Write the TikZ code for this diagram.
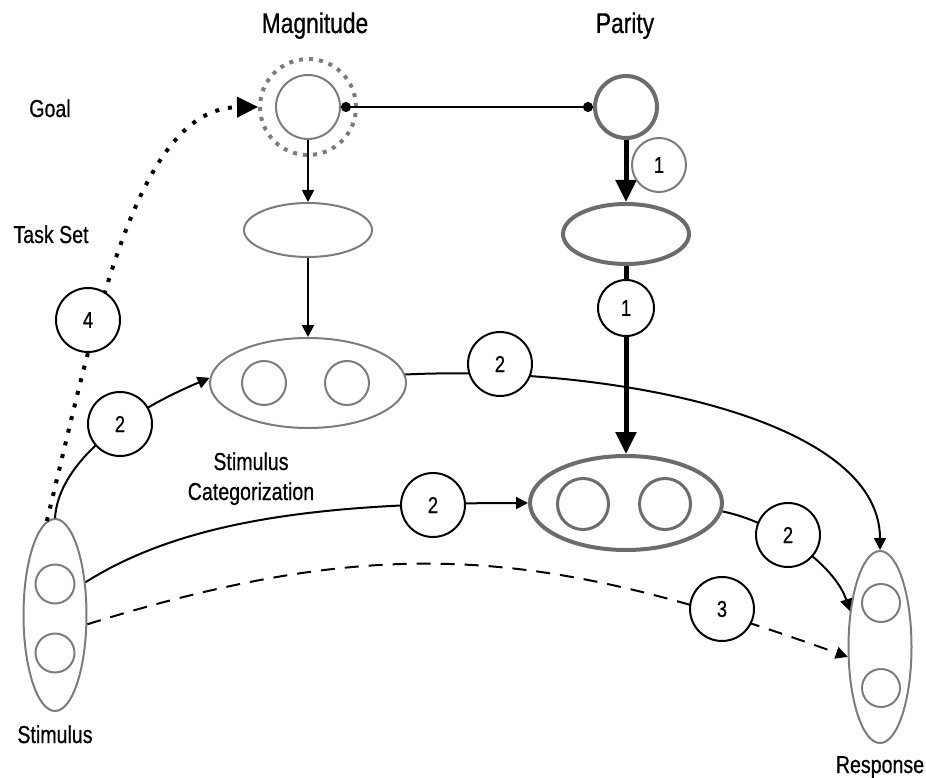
\documentclass[tikz,border=0pt]{standalone}
\usepackage{fontspec}
\setmainfont{Liberation Sans}[FakeStretch=0.8, FakeBold=0.6]
\usetikzlibrary{arrows.meta, shapes.geometric}

\definecolor{shapegray}{HTML}{7C7C7C}
\definecolor{boldgray}{HTML}{6C6C6C}

\begin{document}
\begin{tikzpicture}[x=1pt, y=-1pt,
		every node/.style={font=\fontsize{24.5}{30}\selectfont},
		grayshape/.style={draw=shapegray, line width=2pt, inner sep=0pt},
		boldshape/.style={draw=boldgray, line width=4pt, inner sep=0pt},
		oval/.style 2 args={ellipse, minimum width=#1, minimum height=#2},
		ring/.style={circle, minimum size=#1},
		numbered/.style={circle, draw, line width=2pt, fill=white, inner sep=0pt, minimum size=64pt, font=\fontsize{23}{23}\selectfont},
		conn/.style={line width=2pt, -{Triangle[length=12pt,width=12pt]}},
		boldconn/.style={line width=5pt, -{Triangle[length=22pt,width=20pt]}}
	]
	\useasboundingbox (0,0) rectangle (926,778);

	\def\magX{308};
	\def\parX{626};

	% goals, task sets, categorization
	\node[grayshape, ring=64pt] (magGoal) at (\magX,107) {};
	\node[ring=96pt, draw=shapegray, line width=4pt, dash pattern=on 4pt off 6.05pt] (magRing) at (\magX,107) {};
	\node[boldshape, ring=62pt] (parGoal) at (\parX,107) {};

	\node[grayshape, oval={128pt}{54pt}] (magSet) at (\magX,230) {};
	\node[boldshape, oval={126pt}{60pt}] (parSet) at (\parX,234) {};

	\node[grayshape, oval={196pt}{90pt}] (magCat) at (\magX,383) {};
	\node[grayshape, ring=44pt] (magCatA) at (264,383) {};
	\node[grayshape, ring=44pt] (magCatB) at (347,383) {};

	\node[boldshape, oval={192pt}{94pt}] (parCat) at (\parX,503) {};
	\node[boldshape, line width=3pt, ring=51pt] (parCatA) at (583,504) {};
	\node[boldshape, line width=3pt, ring=51pt] (parCatB) at (665,504) {};

	% stimulus and response
	\node[grayshape, oval={63pt}{192pt}] (stim) at (55,615) {};
	\node[grayshape, ring=39pt] (stimA) at (55,584) {};
	\node[grayshape, ring=39pt] (stimB) at (55,653) {};

	\node[grayshape, oval={63pt}{192pt}] (resp) at (880,647) {};
	\node[grayshape, ring=38pt] (respA) at (881,603) {};
	\node[grayshape, ring=38pt] (respB) at (881,688) {};

	\begin{scope}
		\draw[line width=2pt, {Circle[length=10pt]}-{Circle[length=10pt]}] (magGoal.east) -- (parGoal.west);
		\draw[conn] (magGoal.south) -- (magSet.north);
		\draw[conn] (magSet.south) -- (magCat.north);
		\draw[boldconn] (parGoal.south) -- (parSet.north);
		\draw[boldconn] (parSet.south) -- (parCat.north);
	\end{scope}

	\begin{scope}
		\draw[conn] (stim.north) .. controls (58,470) and (110,420) .. (magCat.177);
		\draw[conn] (magCat.5) .. controls (600,365) and (880,415) .. (resp.north);
		\draw[conn] (stim.47) .. controls (187,518) and (330,503) .. (parCat.west);
		\draw[conn] (parCat.-5) .. controls (775,522) and (835,565) .. (resp.130);
		\draw[conn, dash pattern=on 14pt off 10pt] (stim.-16) .. controls (387,531) and (548,549) .. (resp.197);
		\draw[line width=4pt, dash pattern=on 4pt off 9pt, -{Triangle[length=21pt,width=20pt]}] (stim.95) .. controls (96,320) and (136,108) .. (magRing.west);
	\end{scope}

	% step numbers
	\node[numbered, draw=shapegray, minimum size=54pt] (oneA) at (659,165) {1};
	\node[numbered, minimum size=56pt] (oneB) at (\parX,308) {1};
	\node[numbered] (twoA) at (120,424) {2};
	\node[numbered] (four) at (88,320) {4};
	\node[numbered] (twoB) at (500,364) {2};
	\node[numbered] (twoC) at (433,505) {2};
	\node[numbered] (twoD) at (788,535) {2};
	\node[numbered] (three) at (722,609) {3};

	% labels
	\node[anchor=base, font=\fontsize{28.5}{34}\selectfont] (magLabel) at (315,33) {Magnitude};
	\node[anchor=base, font=\fontsize{28.5}{34}\selectfont] (parLabel) at (625,33) {Parity};
	\node[anchor=base] (goalLabel) at (50,117) {Goal};
	\node[anchor=base] (setLabel) at (51,243) {Task Set};
	\node[anchor=base, align=center] (catLabel) at (251,500) {Stimulus\\Categorization};
	\node[anchor=base] (stimLabel) at (55,743) {Stimulus};
	\node[anchor=base] (respLabel) at (880,773) {Response};
\end{tikzpicture}
\end{document}
